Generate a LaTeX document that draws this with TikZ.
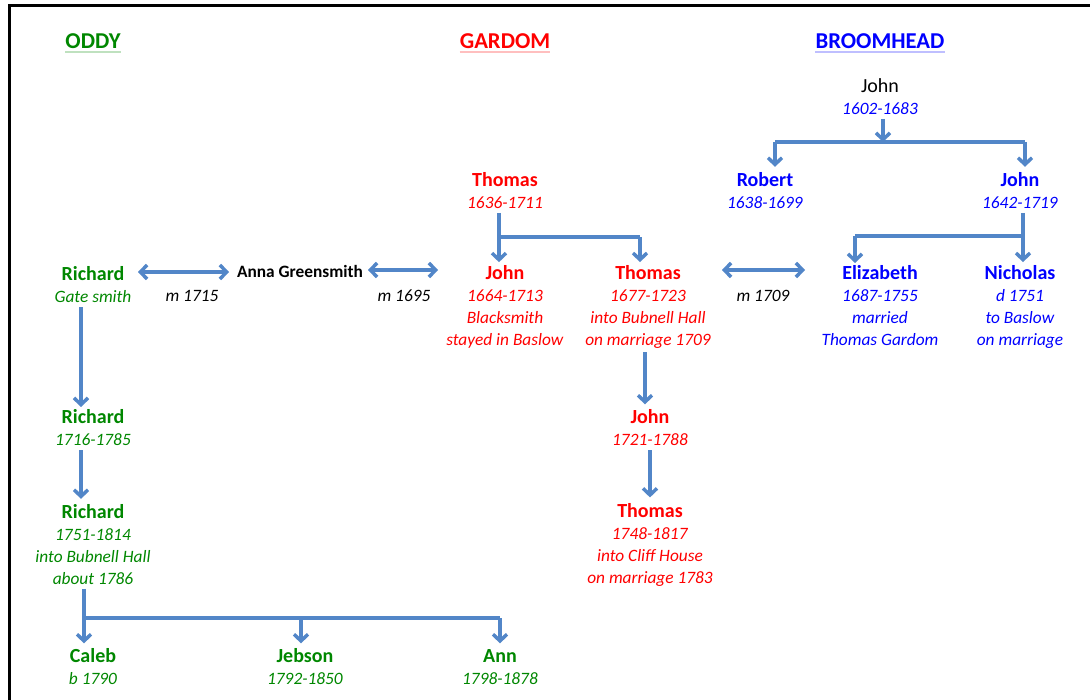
\documentclass[tikz,border=0pt]{standalone}
\usepackage{fontspec}
\setmainfont{Carlito}
\usetikzlibrary{arrows.meta}
\definecolor{og}{RGB}{0,135,0}
\definecolor{gr}{RGB}{255,0,0}
\definecolor{bh}{RGB}{0,0,255}
\definecolor{lk}{RGB}{82,134,200}
\newcommand{\PName}[1]{{\fontsize{15}{16.5}\selectfont\bfseries\vphantom{hd}#1}}
\begin{document}
\begin{tikzpicture}[x=0.75pt,y=-0.75pt,
  every node/.style={inner sep=0pt, align=center, font=\fontsize{13}{16.5}\selectfont},
  oddy/.style={text=og},
  gard/.style={text=gr},
  broom/.style={text=bh},
  hdr/.style={font=\fontsize{17}{20}\selectfont\bfseries},
  mar/.style={font=\fontsize{13}{16.5}\selectfont\itshape, text=black},
  plain/.style={draw=lk, line width=2.6pt},
  link/.style={plain, -{Straight Barb[length=5pt,width=10.5pt]}},
  dlink/.style={plain, {Straight Barb[length=5pt,width=10.5pt]}-{Straight Barb[length=5pt,width=10.5pt]}},
  gap/.style={shorten <=3pt},
  ul/.style={line width=1.5pt}]
\useasboundingbox (0,0) rectangle (1090,700);
% frame
\draw[line width=2.6pt] (9.5,700) -- (9.5,5.5) -- (1090,5.5);
% headers
\node[hdr, text=og] (oddyH) at (93,41) {ODDY};
\node[hdr, text=gr] (gardH) at (505,41) {GARDOM};
\node[hdr, text=bh] (broomH) at (880,41) {BROOMHEAD};
\draw[ul, og!25] ([yshift=-2.5pt]oddyH.base west) -- ([yshift=-2.5pt]oddyH.base east);
\draw[ul, gr!25] ([yshift=-2.5pt]gardH.base west) -- ([yshift=-2.5pt]gardH.base east);
\draw[ul, bh!25] ([yshift=-2.5pt]broomH.base west) -- ([yshift=-2.5pt]broomH.base east);
% Broomhead
\node (jB0) at (880,96.5) {{\fontsize{15}{16.5}\selectfont John}\\\textcolor{bh}{\textit{1602-1683}}};
\node[broom] (rob) at (765,190.5) {\PName{Robert}\\\textit{1638-1699}};
\node[broom] (jB1) at (1020,190.5) {\PName{John}\\\textit{1642-1719}};
\node[broom] (eliz) at (880,306) {\PName{Elizabeth}\\\textit{1687-1755}\\\textit{married}\\\textit{Thomas Gardom}};
\node[broom] (nich) at (1020,306.5) {\PName{Nicholas}\\\textit{d 1751}\\\textit{to Baslow}\\\textit{on marriage}};
% Gardom
\node[gard] (tG0) at (505,190.5) {\PName{Thomas}\\\textit{1636-1711}};
\node[gard] (jG) at (505,306.5) {\PName{John}\\\textit{1664-1713}\\\textit{Blacksmith}\\\textit{stayed in Baslow}};
\node[gard] (tG1) at (648,306.5) {\PName{Thomas}\\\textit{1677-1723}\\\textit{into Bubnell Hall}\\\textit{on marriage 1709}};
\node[gard] (jG2) at (650,428) {\PName{John}\\\textit{1721-1788}};
\node[gard] (tG2) at (650,544.5) {\PName{Thomas}\\\textit{1748-1817}\\\textit{into Cliff House}\\\textit{on marriage 1783}};
% Oddy
\node[oddy] (r0) at (93,285) {\PName{Richard}\\\textit{Gate smith}};
\node[font=\fontsize{13}{16.5}\selectfont\bfseries] (anna) at (300,271) {Anna Greensmith};
\node[oddy] (r1) at (93,428) {\PName{Richard}\\\textit{1716-1785}};
\node[oddy] (r2) at (93,544.5) {\PName{Richard}\\\textit{1751-1814}\\\textit{into Bubnell Hall}\\\textit{about 1786}};
\node[oddy] (caleb) at (93,667) {\PName{Caleb}\\\textit{b 1790}};
\node[oddy] (jebson) at (305,667) {\PName{Jebson}\\\textit{1792-1850}};
\node[oddy] (ann) at (500,667) {\PName{Ann}\\\textit{1798-1878}};
% marriage labels
\node[mar] (m1715) at (192,296) {m 1715};
\node[mar] (m1695) at (404,296) {m 1695};
\node[mar] (m1709) at (763,296) {m 1709};
% junctions
\coordinate (bj) at (883,142);
\coordinate (bl) at (775,142);
\coordinate (br) at (1025,142);
\coordinate (bj2) at (1023,236);
\coordinate (bl2) at (855,236);
\coordinate (tGj) at (499,237);
\coordinate (tGr) at (640,237);
\coordinate (oj) at (84,618);
\coordinate (om) at (301,618);
\coordinate (orr) at (500,618);
\coordinate (ma1) at (138,272);
\coordinate (ma2) at (229,272);
\coordinate (mb1) at (368,270);
\coordinate (mb2) at (438,270);
\coordinate (mc1) at (722,270);
\coordinate (mc2) at (805,270);
% connectors Broomhead
\draw[link, gap] (jB0.south -| bj) -- (bj);
\draw[plain] (bl) -- (br);
\draw[link, shorten >=4pt] (bl) -- (bl |- rob.north);
\draw[link, shorten >=4pt] (br) -- (br |- jB1.north);
\draw[plain, gap] (jB1.south -| bj2) -- (bj2) -- (bl2);
\draw[link, shorten >=2pt] (bj2) -- (bj2 |- nich.north);
\draw[link, shorten >=2pt] (bl2) -- (bl2 |- eliz.north);
% connectors Gardom
\draw[plain, gap] (tG0.south -| tGj) -- (tGj) -- (tGr);
\draw[link, shorten >=2pt] (tGj) -- (tGj |- jG.north);
\draw[link, shorten >=2pt] (tGr) -- (tGr |- tG1.north);
\draw[link, gap, shorten >=4pt] ([xshift=-2.25pt]tG1.south) -- ([xshift=-3.75pt]jG2.north);
\draw[link, gap, shorten >=4pt] (jG2.south) -- (tG2.north);
% connectors Oddy
\draw[link, gap, shorten >=2pt] ([xshift=-9pt]r0.south) -- ([xshift=-9pt]r1.north);
\draw[link, gap, shorten >=4pt] ([xshift=-9pt]r1.south) -- ([xshift=-9pt]r2.north);
\draw[plain, gap] (r2.south -| oj) -- (oj) -- (orr);
\draw[link, shorten >=4pt] (oj) -- (oj |- caleb.north);
\draw[link, shorten >=4pt] (om) -- (om |- jebson.north);
\draw[link, shorten >=4pt] (orr) -- (orr |- ann.north);
% marriages
\draw[dlink] (ma1) -- (ma2);
\draw[dlink] (mb1) -- (mb2);
\draw[dlink] (mc1) -- (mc2);
\end{tikzpicture}
\end{document}
